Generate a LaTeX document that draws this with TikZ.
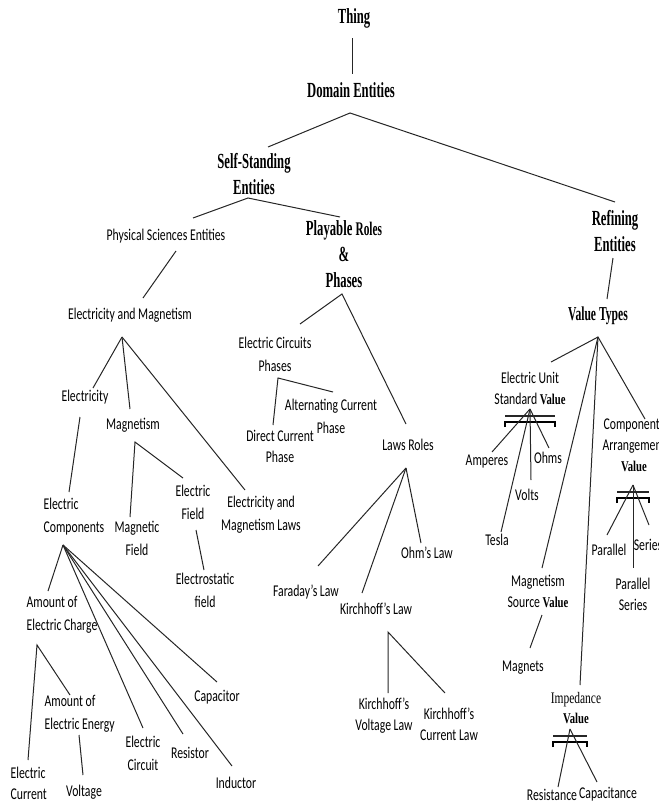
\documentclass[tikz,border=0pt]{standalone}
\usepackage{fontspec}
\setmainfont{Liberation Serif}
\newfontfamily\calibfont{Carlito}
\usetikzlibrary{calc}

% bold serif "Value" inside the small labels
\newcommand{\val}{{\rmfamily\bfseries\fontsize{8}{12}\selectfont Value}}
% double bar under a value node: apex coordinate, half width
\newcommand{\valuebar}[2]{%
	\draw[thin bar] ($(#1)+(-#2,7)$) -- ($(#1)+(#2,7)$);
	\draw[thick bar] ($(#1)+(-#2,18)$) -- ($(#1)+(-#2,13)$) -- ($(#1)+(#2,13)$) -- ($(#1)+(#2,18)$);
}

\begin{document}
\begin{tikzpicture}[x=0.75pt, y=-0.75pt,
		leaf/.style={font=\calibfont\fontsize{8.8}{12.4}\selectfont, yscale=1.4, align=center, inner sep=1pt},
		tight/.style={font=\calibfont\fontsize{8.8}{11.2}\selectfont},
		topic/.style={font=\bfseries\fontsize{9.5}{11.5}\selectfont, yscale=1.7, align=center, inner sep=1pt},
		link/.style={draw=black!85, line width=0.75pt},
		thin bar/.style={draw=black!85, line width=0.8pt},
		thick bar/.style={draw=black, line width=2pt}]

	\useasboundingbox (0,0) rectangle (658,803);

	% upper levels
	\node[topic] (thing) at (354,18) {Thing};
	\node[topic] (domain) at (351,90) {Domain Entities};
	\node[topic] (selfst) at (254,174) {Self-Standing\\Entities};
	\node[topic] (playable) at (344,254) {Playable {\fontsize{8.5}{11.5}\selectfont Roles}\\\&\\Phases};
	\node[topic] (refining) at (615,231) {Refining\\Entities};
	\node[topic, font=\bfseries\fontsize{8.7}{11.5}\selectfont] (valtypes) at (598,316) {Value Types};

	% physical sciences branch
	\node[leaf] (physci) at (166,236) {Physical Sciences Entities};
	\node[leaf] (elmag) at (130,315) {Electricity and Magnetism};
	\node[leaf] (elec) at (85,397) {Electricity};
	\node[leaf] (magn) at (133,425) {Magnetism};
	\node[leaf] (emlaws) at (261,515) {Electricity and\\Magnetism Laws};
	\node[leaf] (elfield) at (193,502) {Electric\\Field};
	\node[leaf] (estatic) at (205,590) {Electrostatic\\field};
	\node[leaf] (magfield) at (137,538) {Magnetic\\Field};
	\node[leaf, anchor=west, align=left] (elcomp) at (42,517) {Electric\\Components};
	\node[leaf, anchor=west, align=left] (charge) at (25,615) {Amount of\\Electric Charge};
	\node[leaf, anchor=west, align=left] (energy) at (43,714) {Amount of\\Electric Energy};
	\node[leaf, anchor=west, align=left, tight] (elcurrent) at (9,783) {Electric\\Current};
	\node[leaf] (voltage) at (84,792) {Voltage};
	\node[leaf] (elcircuit) at (143,753) {Electric\\Circuit};
	\node[leaf] (resistor) at (190,753) {Resistor};
	\node[leaf] (inductor) at (236,783) {Inductor};
	\node[leaf] (capacitor) at (217,697) {Capacitor};

	% roles and phases branch
	\node[leaf] (ecphases) at (275,354) {Electric Circuits\\Phases};
	\node[leaf] (acphase) at (331,416) {Alternating Current\\Phase};
	\node[leaf, tight] (dcphase) at (280,446) {Direct Current\\Phase};
	\node[leaf] (lawroles) at (408,445) {Laws Roles};
	\node[leaf] (ohm) at (427,553) {Ohm’s Law};
	\node[leaf] (faraday) at (306,592) {Faraday’s Law};
	\node[leaf] (kirch) at (376,609) {Kirchhoff’s Law};
	\node[leaf, tight] (kvl) at (384,716) {Kirchhoff’s\\Voltage Law};
	\node[leaf, tight] (kcl) at (449,724) {Kirchhoff’s\\Current Law};

	% value types branch
	\node[leaf, tight] (unitval) at (530,388) {Electric Unit\\Standard \val};
	\node[leaf] (amperes) at (487,462) {Amperes};
	\node[leaf] (ohms) at (548,458) {Ohms};
	\node[leaf] (volts) at (527,495) {Volts};
	\node[leaf] (tesla) at (497,540) {Tesla};
	\node[leaf, tight] (arrval) at (634,445) {Components\\Arrangement\\\val};
	\node[leaf] (parallel) at (609,550) {Parallel};
	\node[leaf] (series) at (648,545) {Series};
	\node[leaf, tight] (parser) at (633,594) {Parallel\\Series};
	\node[leaf, tight] (magsrc) at (538,591) {Magnetism\\Source \val};
	\node[leaf] (magnets) at (523,668) {Magnets};
	\node[leaf, tight] (impval) at (576,708) {{\rmfamily\fontsize{8.6}{11}\selectfont Impedance}\\\val};
	\node[leaf] (resistance) at (552,795) {Resistance};
	\node[leaf] (capacitance) at (608,794) {Capacitance};

	% fork points under the parents
	\coordinate (domain-fork) at ($(domain)+(-1,23)$);
	\coordinate (selfst-fork) at ($(selfst)+(-6,24)$);
	\coordinate (elmag-fork) at ($(elmag)+(-8,22)$);
	\coordinate (magn-fork) at ($(magn)+(2,17)$);
	\coordinate (elcomp-fork) at ($(elcomp.west)+(21,28)$);
	\coordinate (charge-fork) at ($(charge.west)+(12,30)$);
	\coordinate (playable-fork) at ($(playable)+(-2,40)$);
	\coordinate (ecphases-fork) at ($(ecphases)+(3,24)$);
	\coordinate (lawroles-fork) at ($(lawroles)+(-2,23)$);
	\coordinate (kirch-fork) at ($(kirch)+(12,23)$);
	\coordinate (valtypes-fork) at ($(valtypes)+(0,21)$);
	\coordinate (unitval-fork) at ($(unitval)+(0,21)$);
	\coordinate (arrval-fork) at ($(arrval)+(-1,40)$);
	\coordinate (impval-fork) at ($(impval)+(-6,21)$);

	% connectors
	\draw[link] ($(thing)+(-2,20)$) -- ($(domain)+(1,-16)$);
	\draw[link] ($(selfst)+(14,-27)$) -- (domain-fork) -- ($(refining)+(0,-29)$);
	\draw[link] ($(physci)+(27,-18)$) -- (selfst-fork) -- ($(playable)+(-4,-37)$);
	\draw[link] ($(physci)+(10,15)$) -- ($(elmag)+(13,-17)$);

	\draw[link] (elmag-fork) -- ($(elec)+(8,-9)$);
	\draw[link] (elmag-fork) -- ($(magn)+(-3,-16)$);
	\draw[link] (elmag-fork) -- ($(emlaws)+(-16,-25)$);
	\draw[link] ($(elec)+(-5,20)$) -- ($(elcomp.west)+(27,-25)$);
	\draw[link] ($(magfield)+(-7,-21)$) -- (magn-fork) -- ($(elfield)+(-10,-24)$);
	\draw[link] ($(elfield)+(3,28)$) -- ($(estatic)+(-1,-20)$);

	\draw[link] (elcomp-fork) -- ($(charge.west)+(23,-24)$);
	\draw[link] (elcomp-fork) -- ($(elcircuit)+(0,-25)$);
	\draw[link] (elcomp-fork) -- ($(resistor)+(-7,-19)$);
	\draw[link] (elcomp-fork) -- ($(inductor)+(-4,-17)$);
	\draw[link] (elcomp-fork) -- ($(capacitor)+(0,-15)$);
	\draw[link] ($(elcurrent.west)+(19,-23)$) -- (charge-fork) -- ($(energy.west)+(27,-19)$);
	\draw[link] ($(energy.west)+(36,21)$) -- ($(voltage)+(-1,-17)$);

	\draw[link] ($(ecphases)+(25,-30)$) -- (playable-fork) -- ($(lawroles)+(-2,-21)$);
	\draw[link] ($(dcphase)+(-7,-21)$) -- (ecphases-fork) -- ($(acphase)+(2,-24)$);
	\draw[link] (lawroles-fork) -- ($(faraday)+(12,-26)$);
	\draw[link] (lawroles-fork) -- ($(kirch)+(-14,-16)$);
	\draw[link] (lawroles-fork) -- ($(ohm)+(-6,-10)$);
	\draw[link] ($(kvl)+(4,-23)$) -- (kirch-fork) -- ($(kcl)+(-4,-31)$);

	\draw[link] ($(refining)+(-2,27)$) -- ($(valtypes)+(9,-17)$);
	\draw[link] ($(unitval)+(21,-26)$) -- (valtypes-fork) -- ($(arrval)+(11,-26)$);
	\draw[link] (valtypes-fork) -- ($(magsrc)+(4,-23)$);
	\draw[link] (valtypes-fork) -- ($(impval)+(4,-23)$);
	\draw[link] ($(magsrc)+(4,24)$) -- ($(magnets)+(7,-20)$);

	\valuebar{unitval-fork}{25}
	\draw[link] (unitval-fork) -- ($(amperes)+(5,-10)$);
	\draw[link] (unitval-fork) -- ($(ohms)+(1,-10)$);
	\draw[link] (unitval-fork) -- ($(volts)+(4,-15)$);
	\draw[link] (unitval-fork) -- ($(tesla)+(4,-8)$);

	\valuebar{arrval-fork}{16}
	\draw[link] (arrval-fork) -- ($(parallel)+(-2,-15)$);
	\draw[link] (arrval-fork) -- ($(series)+(1,-20)$);
	\draw[link] (arrval-fork) -- ($(parser)+(0,-26)$);

	\valuebar{impval-fork}{17}
	\draw[link] (impval-fork) -- ($(resistance)+(6,-8)$);
	\draw[link] (impval-fork) -- ($(capacitance)+(-11,-12)$);
\end{tikzpicture}
\end{document}
